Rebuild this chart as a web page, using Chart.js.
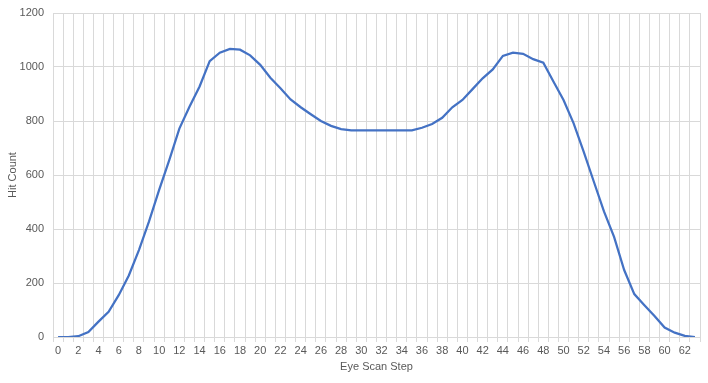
<!DOCTYPE html>
<html>
<head>
<meta charset="utf-8">
<script src="https://cdn.jsdelivr.net/npm/chart.js@4/dist/chart.umd.min.js"></script>
<style>
html,body{margin:0;padding:0;background:#fff;}
#wrap{width:708px;height:383px;position:relative;}
</style>
</head>
<body>
<div id="wrap"><canvas id="c"></canvas></div>
<script>
const steps = Array.from({length: 64}, (_, i) => String(i));
const hitCount = [
  0, 0, 3, 18, 57, 93, 155, 228, 322, 428,
  545, 655, 772, 853, 928, 1022, 1053, 1067, 1064, 1043,
  1008, 960, 921, 880, 851, 825, 800, 782, 770, 765,
  765, 765, 765, 765, 765, 765, 775, 789, 812, 851,
  878, 918, 958, 991, 1041, 1053, 1049, 1029, 1016, 946,
  878, 791, 686, 575, 465, 371, 248, 159, 118, 78,
  35, 16, 4, 0
];
const yTicks = [0, 200, 400, 600, 800, 1000, 1200];
const xTitle = 'Eye Scan Step';
const yTitle = 'Hit Count';

const grey = '#D9D9D9';
const txt = '#595959';
const font = {family: '"Liberation Sans", Arial, sans-serif', size: 11};

new Chart(document.getElementById('c'), {
  type: 'line',
  data: {
    labels: steps,
    datasets: [{
      data: hitCount,
      borderColor: '#4472C4',
      borderWidth: 2.25,
      pointRadius: 0,
      tension: 0,
      fill: false
    }]
  },
  options: {
    responsive: true,
    maintainAspectRatio: false,
    animation: false,
    devicePixelRatio: 1,
    layout: {padding: {top: 13, right: 8, left: 0, bottom: 9}},
    plugins: {legend: {display: false}, tooltip: {enabled: false}},
    scales: {
      x: {
        type: 'category',
        offset: true,
        grid: {offset: true, color: grey, lineWidth: 1, tickLength: 5, drawTicks: true, tickColor: grey},
        border: {display: true, color: grey, width: 1},
        ticks: {
          autoSkip: false, maxRotation: 0, minRotation: 0, color: txt, font: font, padding: 2,
          callback: function(v, i) { return i % 2 === 0 ? steps[i] : ''; }
        },
        title: {display: true, text: xTitle, color: txt, font: font, padding: {top: 2, bottom: 0}},
        afterFit: function(s) { s.height = 37; }
      },
      y: {
        min: 0, max: 1200,
        afterBuildTicks: function(s) { s.ticks = yTicks.map(v => ({value: v})); },
        grid: {color: grey, lineWidth: 1, drawTicks: false},
        border: {display: false},
        ticks: {color: txt, font: font, padding: 9, callback: function(v) { return String(v); }},
        title: {display: true, text: yTitle, color: txt, font: font, padding: {top: 6, bottom: 4}},
        afterFit: function(s) { s.width = 53; s.paddingTop = 0; s.paddingBottom = 0; }
      }
    }
  }
});
</script>
</body>
</html>
